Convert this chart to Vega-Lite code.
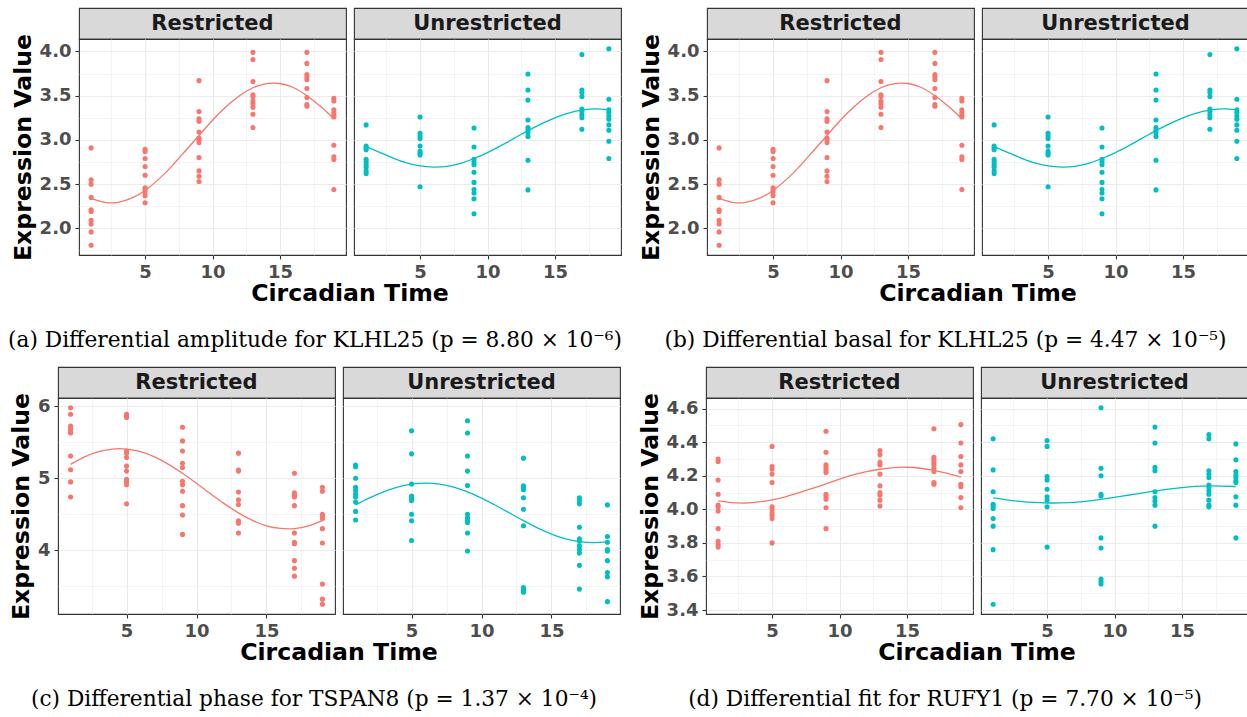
{
"$schema": "https://vega.github.io/schema/vega-lite/v6.json",
"padding": {"left": 7, "top": 7, "right": 0, "bottom": 0},
"background": "white",
"datasets": {
"pab": [
{"g":"Restricted","t":1,"v":2.91},{"g":"Restricted","t":1,"v":2.55},{"g":"Restricted","t":1,"v":2.50},{"g":"Restricted","t":1,"v":2.35},{"g":"Restricted","t":1,"v":2.21},{"g":"Restricted","t":1,"v":2.19},{"g":"Restricted","t":1,"v":2.09},{"g":"Restricted","t":1,"v":2.05},{"g":"Restricted","t":1,"v":1.96},{"g":"Restricted","t":1,"v":1.81},
{"g":"Restricted","t":5,"v":2.895},{"g":"Restricted","t":5,"v":2.87},{"g":"Restricted","t":5,"v":2.79},{"g":"Restricted","t":5,"v":2.70},{"g":"Restricted","t":5,"v":2.60},{"g":"Restricted","t":5,"v":2.46},{"g":"Restricted","t":5,"v":2.44},{"g":"Restricted","t":5,"v":2.41},{"g":"Restricted","t":5,"v":2.37},{"g":"Restricted","t":5,"v":2.29},
{"g":"Restricted","t":9,"v":3.67},{"g":"Restricted","t":9,"v":3.32},{"g":"Restricted","t":9,"v":3.24},{"g":"Restricted","t":9,"v":3.21},{"g":"Restricted","t":9,"v":3.09},{"g":"Restricted","t":9,"v":3.02},{"g":"Restricted","t":9,"v":3.00},{"g":"Restricted","t":9,"v":2.97},{"g":"Restricted","t":9,"v":2.80},{"g":"Restricted","t":9,"v":2.65},{"g":"Restricted","t":9,"v":2.59},{"g":"Restricted","t":9,"v":2.53},
{"g":"Restricted","t":13,"v":3.99},{"g":"Restricted","t":13,"v":3.91},{"g":"Restricted","t":13,"v":3.66},{"g":"Restricted","t":13,"v":3.51},{"g":"Restricted","t":13,"v":3.49},{"g":"Restricted","t":13,"v":3.44},{"g":"Restricted","t":13,"v":3.41},{"g":"Restricted","t":13,"v":3.37},{"g":"Restricted","t":13,"v":3.29},{"g":"Restricted","t":13,"v":3.14},
{"g":"Restricted","t":17,"v":3.99},{"g":"Restricted","t":17,"v":3.865},{"g":"Restricted","t":17,"v":3.74},{"g":"Restricted","t":17,"v":3.71},{"g":"Restricted","t":17,"v":3.68},{"g":"Restricted","t":17,"v":3.58},{"g":"Restricted","t":17,"v":3.48},{"g":"Restricted","t":17,"v":3.40},{"g":"Restricted","t":17,"v":3.38},
{"g":"Restricted","t":19,"v":3.47},{"g":"Restricted","t":19,"v":3.44},{"g":"Restricted","t":19,"v":3.34},{"g":"Restricted","t":19,"v":3.31},{"g":"Restricted","t":19,"v":3.28},{"g":"Restricted","t":19,"v":3.26},{"g":"Restricted","t":19,"v":2.94},{"g":"Restricted","t":19,"v":2.81},{"g":"Restricted","t":19,"v":2.78},{"g":"Restricted","t":19,"v":2.44},
{"g":"Unrestricted","t":1,"v":3.17},{"g":"Unrestricted","t":1,"v":2.93},{"g":"Unrestricted","t":1,"v":2.91},{"g":"Unrestricted","t":1,"v":2.89},{"g":"Unrestricted","t":1,"v":2.78},{"g":"Unrestricted","t":1,"v":2.75},{"g":"Unrestricted","t":1,"v":2.72},{"g":"Unrestricted","t":1,"v":2.69},{"g":"Unrestricted","t":1,"v":2.65},{"g":"Unrestricted","t":1,"v":2.62},
{"g":"Unrestricted","t":5,"v":3.26},{"g":"Unrestricted","t":5,"v":3.075},{"g":"Unrestricted","t":5,"v":3.045},{"g":"Unrestricted","t":5,"v":3.015},{"g":"Unrestricted","t":5,"v":2.93},{"g":"Unrestricted","t":5,"v":2.87},{"g":"Unrestricted","t":5,"v":2.85},{"g":"Unrestricted","t":5,"v":2.83},{"g":"Unrestricted","t":5,"v":2.47},
{"g":"Unrestricted","t":9,"v":3.135},{"g":"Unrestricted","t":9,"v":2.92},{"g":"Unrestricted","t":9,"v":2.78},{"g":"Unrestricted","t":9,"v":2.75},{"g":"Unrestricted","t":9,"v":2.72},{"g":"Unrestricted","t":9,"v":2.635},{"g":"Unrestricted","t":9,"v":2.52},{"g":"Unrestricted","t":9,"v":2.44},{"g":"Unrestricted","t":9,"v":2.40},{"g":"Unrestricted","t":9,"v":2.335},{"g":"Unrestricted","t":9,"v":2.165},
{"g":"Unrestricted","t":13,"v":3.745},{"g":"Unrestricted","t":13,"v":3.565},{"g":"Unrestricted","t":13,"v":3.45},{"g":"Unrestricted","t":13,"v":3.225},{"g":"Unrestricted","t":13,"v":3.14},{"g":"Unrestricted","t":13,"v":3.11},{"g":"Unrestricted","t":13,"v":3.08},{"g":"Unrestricted","t":13,"v":3.04},{"g":"Unrestricted","t":13,"v":2.77},{"g":"Unrestricted","t":13,"v":2.435},
{"g":"Unrestricted","t":17,"v":3.965},{"g":"Unrestricted","t":17,"v":3.565},{"g":"Unrestricted","t":17,"v":3.535},{"g":"Unrestricted","t":17,"v":3.49},{"g":"Unrestricted","t":17,"v":3.35},{"g":"Unrestricted","t":17,"v":3.32},{"g":"Unrestricted","t":17,"v":3.285},{"g":"Unrestricted","t":17,"v":3.25},{"g":"Unrestricted","t":17,"v":3.12},
{"g":"Unrestricted","t":19,"v":4.03},{"g":"Unrestricted","t":19,"v":3.46},{"g":"Unrestricted","t":19,"v":3.34},{"g":"Unrestricted","t":19,"v":3.31},{"g":"Unrestricted","t":19,"v":3.27},{"g":"Unrestricted","t":19,"v":3.235},{"g":"Unrestricted","t":19,"v":3.17},{"g":"Unrestricted","t":19,"v":3.11},{"g":"Unrestricted","t":19,"v":2.985},{"g":"Unrestricted","t":19,"v":2.79}
],
"fab": [
{"g":"Restricted","t":1,"v":2.340},{"g":"Restricted","t":2,"v":2.295},{"g":"Restricted","t":3,"v":2.295},{"g":"Restricted","t":4,"v":2.341},{"g":"Restricted","t":5,"v":2.429},{"g":"Restricted","t":6,"v":2.554},{"g":"Restricted","t":7,"v":2.707},{"g":"Restricted","t":8,"v":2.878},{"g":"Restricted","t":9,"v":3.050},{"g":"Restricted","t":10,"v":3.222},{"g":"Restricted","t":11,"v":3.375},{"g":"Restricted","t":12,"v":3.500},{"g":"Restricted","t":13,"v":3.590},{"g":"Restricted","t":14,"v":3.637},{"g":"Restricted","t":15,"v":3.638},{"g":"Restricted","t":16,"v":3.593},{"g":"Restricted","t":17,"v":3.500},{"g":"Restricted","t":18,"v":3.380},{"g":"Restricted","t":19,"v":3.240},
{"g":"Unrestricted","t":1,"v":2.925},{"g":"Unrestricted","t":2,"v":2.860},{"g":"Unrestricted","t":3,"v":2.795},{"g":"Unrestricted","t":4,"v":2.740},{"g":"Unrestricted","t":5,"v":2.706},{"g":"Unrestricted","t":6,"v":2.692},{"g":"Unrestricted","t":7,"v":2.701},{"g":"Unrestricted","t":8,"v":2.735},{"g":"Unrestricted","t":9,"v":2.790},{"g":"Unrestricted","t":10,"v":2.857},{"g":"Unrestricted","t":11,"v":2.936},{"g":"Unrestricted","t":12,"v":3.020},{"g":"Unrestricted","t":13,"v":3.105},{"g":"Unrestricted","t":14,"v":3.182},{"g":"Unrestricted","t":15,"v":3.250},{"g":"Unrestricted","t":16,"v":3.303},{"g":"Unrestricted","t":17,"v":3.336},{"g":"Unrestricted","t":18,"v":3.350},{"g":"Unrestricted","t":19,"v":3.340}
],
"pc": [
{"g":"Restricted","t":1,"v":5.98},{"g":"Restricted","t":1,"v":5.89},{"g":"Restricted","t":1,"v":5.725},{"g":"Restricted","t":1,"v":5.69},{"g":"Restricted","t":1,"v":5.65},{"g":"Restricted","t":1,"v":5.63},{"g":"Restricted","t":1,"v":5.31},{"g":"Restricted","t":1,"v":5.12},{"g":"Restricted","t":1,"v":4.95},{"g":"Restricted","t":1,"v":4.74},
{"g":"Restricted","t":5,"v":5.89},{"g":"Restricted","t":5,"v":5.865},{"g":"Restricted","t":5,"v":5.845},{"g":"Restricted","t":5,"v":5.38},{"g":"Restricted","t":5,"v":5.345},{"g":"Restricted","t":5,"v":5.29},{"g":"Restricted","t":5,"v":5.17},{"g":"Restricted","t":5,"v":5.10},{"g":"Restricted","t":5,"v":4.985},{"g":"Restricted","t":5,"v":4.95},{"g":"Restricted","t":5,"v":4.91},{"g":"Restricted","t":5,"v":4.645},
{"g":"Restricted","t":9,"v":5.71},{"g":"Restricted","t":9,"v":5.52},{"g":"Restricted","t":9,"v":5.38},{"g":"Restricted","t":9,"v":5.21},{"g":"Restricted","t":9,"v":5.15},{"g":"Restricted","t":9,"v":4.96},{"g":"Restricted","t":9,"v":4.91},{"g":"Restricted","t":9,"v":4.82},{"g":"Restricted","t":9,"v":4.62},{"g":"Restricted","t":9,"v":4.49},{"g":"Restricted","t":9,"v":4.22},
{"g":"Restricted","t":13,"v":5.35},{"g":"Restricted","t":13,"v":5.115},{"g":"Restricted","t":13,"v":5.10},{"g":"Restricted","t":13,"v":4.81},{"g":"Restricted","t":13,"v":4.70},{"g":"Restricted","t":13,"v":4.635},{"g":"Restricted","t":13,"v":4.41},{"g":"Restricted","t":13,"v":4.375},{"g":"Restricted","t":13,"v":4.24},
{"g":"Restricted","t":17,"v":5.07},{"g":"Restricted","t":17,"v":4.80},{"g":"Restricted","t":17,"v":4.765},{"g":"Restricted","t":17,"v":4.74},{"g":"Restricted","t":17,"v":4.62},{"g":"Restricted","t":17,"v":4.24},{"g":"Restricted","t":17,"v":4.11},{"g":"Restricted","t":17,"v":4.09},{"g":"Restricted","t":17,"v":3.855},{"g":"Restricted","t":17,"v":3.75},{"g":"Restricted","t":17,"v":3.64},
{"g":"Restricted","t":19,"v":4.875},{"g":"Restricted","t":19,"v":4.82},{"g":"Restricted","t":19,"v":4.50},{"g":"Restricted","t":19,"v":4.47},{"g":"Restricted","t":19,"v":4.44},{"g":"Restricted","t":19,"v":4.30},{"g":"Restricted","t":19,"v":4.10},{"g":"Restricted","t":19,"v":3.53},{"g":"Restricted","t":19,"v":3.32},{"g":"Restricted","t":19,"v":3.25},
{"g":"Unrestricted","t":1,"v":5.185},{"g":"Unrestricted","t":1,"v":5.16},{"g":"Unrestricted","t":1,"v":5.0},{"g":"Unrestricted","t":1,"v":4.875},{"g":"Unrestricted","t":1,"v":4.83},{"g":"Unrestricted","t":1,"v":4.78},{"g":"Unrestricted","t":1,"v":4.74},{"g":"Unrestricted","t":1,"v":4.67},{"g":"Unrestricted","t":1,"v":4.54},{"g":"Unrestricted","t":1,"v":4.42},
{"g":"Unrestricted","t":5,"v":5.66},{"g":"Unrestricted","t":5,"v":5.34},{"g":"Unrestricted","t":5,"v":4.92},{"g":"Unrestricted","t":5,"v":4.755},{"g":"Unrestricted","t":5,"v":4.73},{"g":"Unrestricted","t":5,"v":4.69},{"g":"Unrestricted","t":5,"v":4.50},{"g":"Unrestricted","t":5,"v":4.41},{"g":"Unrestricted","t":5,"v":4.135},
{"g":"Unrestricted","t":9,"v":5.80},{"g":"Unrestricted","t":9,"v":5.63},{"g":"Unrestricted","t":9,"v":5.31},{"g":"Unrestricted","t":9,"v":5.10},{"g":"Unrestricted","t":9,"v":4.90},{"g":"Unrestricted","t":9,"v":4.50},{"g":"Unrestricted","t":9,"v":4.45},{"g":"Unrestricted","t":9,"v":4.41},{"g":"Unrestricted","t":9,"v":4.385},{"g":"Unrestricted","t":9,"v":4.24},{"g":"Unrestricted","t":9,"v":3.99},
{"g":"Unrestricted","t":13,"v":5.28},{"g":"Unrestricted","t":13,"v":4.895},{"g":"Unrestricted","t":13,"v":4.865},{"g":"Unrestricted","t":13,"v":4.84},{"g":"Unrestricted","t":13,"v":4.73},{"g":"Unrestricted","t":13,"v":4.57},{"g":"Unrestricted","t":13,"v":4.34},{"g":"Unrestricted","t":13,"v":3.48},{"g":"Unrestricted","t":13,"v":3.445},{"g":"Unrestricted","t":13,"v":3.415},
{"g":"Unrestricted","t":17,"v":4.73},{"g":"Unrestricted","t":17,"v":4.69},{"g":"Unrestricted","t":17,"v":4.645},{"g":"Unrestricted","t":17,"v":4.32},{"g":"Unrestricted","t":17,"v":4.16},{"g":"Unrestricted","t":17,"v":4.125},{"g":"Unrestricted","t":17,"v":4.06},{"g":"Unrestricted","t":17,"v":4.01},{"g":"Unrestricted","t":17,"v":3.96},{"g":"Unrestricted","t":17,"v":3.79},{"g":"Unrestricted","t":17,"v":3.46},
{"g":"Unrestricted","t":19,"v":4.63},{"g":"Unrestricted","t":19,"v":4.19},{"g":"Unrestricted","t":19,"v":4.11},{"g":"Unrestricted","t":19,"v":4.01},{"g":"Unrestricted","t":19,"v":3.99},{"g":"Unrestricted","t":19,"v":3.855},{"g":"Unrestricted","t":19,"v":3.69},{"g":"Unrestricted","t":19,"v":3.63},{"g":"Unrestricted","t":19,"v":3.285}
],
"fc": [
{"g":"Restricted","t":1,"v":5.194},{"g":"Restricted","t":2,"v":5.297},{"g":"Restricted","t":3,"v":5.370},{"g":"Restricted","t":4,"v":5.407},{"g":"Restricted","t":5,"v":5.407},{"g":"Restricted","t":6,"v":5.370},{"g":"Restricted","t":7,"v":5.297},{"g":"Restricted","t":8,"v":5.194},{"g":"Restricted","t":9,"v":5.070},{"g":"Restricted","t":10,"v":4.930},{"g":"Restricted","t":11,"v":4.785},{"g":"Restricted","t":12,"v":4.645},{"g":"Restricted","t":13,"v":4.520},{"g":"Restricted","t":14,"v":4.415},{"g":"Restricted","t":15,"v":4.340},{"g":"Restricted","t":16,"v":4.303},{"g":"Restricted","t":17,"v":4.300},{"g":"Restricted","t":18,"v":4.338},{"g":"Restricted","t":19,"v":4.413},
{"g":"Unrestricted","t":1,"v":4.630},{"g":"Unrestricted","t":2,"v":4.728},{"g":"Unrestricted","t":3,"v":4.811},{"g":"Unrestricted","t":4,"v":4.877},{"g":"Unrestricted","t":5,"v":4.918},{"g":"Unrestricted","t":6,"v":4.932},{"g":"Unrestricted","t":7,"v":4.918},{"g":"Unrestricted","t":8,"v":4.877},{"g":"Unrestricted","t":9,"v":4.811},{"g":"Unrestricted","t":10,"v":4.725},{"g":"Unrestricted","t":11,"v":4.625},{"g":"Unrestricted","t":12,"v":4.518},{"g":"Unrestricted","t":13,"v":4.411},{"g":"Unrestricted","t":14,"v":4.311},{"g":"Unrestricted","t":15,"v":4.225},{"g":"Unrestricted","t":16,"v":4.159},{"g":"Unrestricted","t":17,"v":4.120},{"g":"Unrestricted","t":18,"v":4.106},{"g":"Unrestricted","t":19,"v":4.115}
],
"pd": [
{"g":"Restricted","t":1,"v":4.30},{"g":"Restricted","t":1,"v":4.285},{"g":"Restricted","t":1,"v":4.175},{"g":"Restricted","t":1,"v":4.09},{"g":"Restricted","t":1,"v":4.025},{"g":"Restricted","t":1,"v":4.015},{"g":"Restricted","t":1,"v":3.99},{"g":"Restricted","t":1,"v":3.885},{"g":"Restricted","t":1,"v":3.81},{"g":"Restricted","t":1,"v":3.79},{"g":"Restricted","t":1,"v":3.775},
{"g":"Restricted","t":5,"v":4.375},{"g":"Restricted","t":5,"v":4.255},{"g":"Restricted","t":5,"v":4.24},{"g":"Restricted","t":5,"v":4.21},{"g":"Restricted","t":5,"v":4.16},{"g":"Restricted","t":5,"v":4.015},{"g":"Restricted","t":5,"v":4.00},{"g":"Restricted","t":5,"v":3.98},{"g":"Restricted","t":5,"v":3.965},{"g":"Restricted","t":5,"v":3.945},{"g":"Restricted","t":5,"v":3.80},
{"g":"Restricted","t":9,"v":4.465},{"g":"Restricted","t":9,"v":4.34},{"g":"Restricted","t":9,"v":4.265},{"g":"Restricted","t":9,"v":4.25},{"g":"Restricted","t":9,"v":4.235},{"g":"Restricted","t":9,"v":4.22},{"g":"Restricted","t":9,"v":4.09},{"g":"Restricted","t":9,"v":4.075},{"g":"Restricted","t":9,"v":4.06},{"g":"Restricted","t":9,"v":4.01},{"g":"Restricted","t":9,"v":3.885},
{"g":"Restricted","t":13,"v":4.35},{"g":"Restricted","t":13,"v":4.325},{"g":"Restricted","t":13,"v":4.28},{"g":"Restricted","t":13,"v":4.265},{"g":"Restricted","t":13,"v":4.21},{"g":"Restricted","t":13,"v":4.14},{"g":"Restricted","t":13,"v":4.10},{"g":"Restricted","t":13,"v":4.085},{"g":"Restricted","t":13,"v":4.055},{"g":"Restricted","t":13,"v":4.02},
{"g":"Restricted","t":17,"v":4.48},{"g":"Restricted","t":17,"v":4.31},{"g":"Restricted","t":17,"v":4.295},{"g":"Restricted","t":17,"v":4.28},{"g":"Restricted","t":17,"v":4.265},{"g":"Restricted","t":17,"v":4.245},{"g":"Restricted","t":17,"v":4.225},{"g":"Restricted","t":17,"v":4.16},{"g":"Restricted","t":17,"v":4.15},
{"g":"Restricted","t":19,"v":4.505},{"g":"Restricted","t":19,"v":4.395},{"g":"Restricted","t":19,"v":4.315},{"g":"Restricted","t":19,"v":4.265},{"g":"Restricted","t":19,"v":4.225},{"g":"Restricted","t":19,"v":4.15},{"g":"Restricted","t":19,"v":4.135},{"g":"Restricted","t":19,"v":4.07},{"g":"Restricted","t":19,"v":4.01},
{"g":"Unrestricted","t":1,"v":4.42},{"g":"Unrestricted","t":1,"v":4.235},{"g":"Unrestricted","t":1,"v":4.105},{"g":"Unrestricted","t":1,"v":4.03},{"g":"Unrestricted","t":1,"v":4.02},{"g":"Unrestricted","t":1,"v":4.005},{"g":"Unrestricted","t":1,"v":3.945},{"g":"Unrestricted","t":1,"v":3.90},{"g":"Unrestricted","t":1,"v":3.76},{"g":"Unrestricted","t":1,"v":3.435},
{"g":"Unrestricted","t":5,"v":4.41},{"g":"Unrestricted","t":5,"v":4.375},{"g":"Unrestricted","t":5,"v":4.195},{"g":"Unrestricted","t":5,"v":4.175},{"g":"Unrestricted","t":5,"v":4.12},{"g":"Unrestricted","t":5,"v":4.075},{"g":"Unrestricted","t":5,"v":4.055},{"g":"Unrestricted","t":5,"v":4.015},{"g":"Unrestricted","t":5,"v":3.775},
{"g":"Unrestricted","t":9,"v":4.605},{"g":"Unrestricted","t":9,"v":4.245},{"g":"Unrestricted","t":9,"v":4.20},{"g":"Unrestricted","t":9,"v":4.09},{"g":"Unrestricted","t":9,"v":4.08},{"g":"Unrestricted","t":9,"v":3.83},{"g":"Unrestricted","t":9,"v":3.77},{"g":"Unrestricted","t":9,"v":3.585},{"g":"Unrestricted","t":9,"v":3.57},{"g":"Unrestricted","t":9,"v":3.555},
{"g":"Unrestricted","t":13,"v":4.49},{"g":"Unrestricted","t":13,"v":4.395},{"g":"Unrestricted","t":13,"v":4.25},{"g":"Unrestricted","t":13,"v":4.23},{"g":"Unrestricted","t":13,"v":4.105},{"g":"Unrestricted","t":13,"v":4.07},{"g":"Unrestricted","t":13,"v":4.05},{"g":"Unrestricted","t":13,"v":4.025},{"g":"Unrestricted","t":13,"v":3.90},
{"g":"Unrestricted","t":17,"v":4.445},{"g":"Unrestricted","t":17,"v":4.42},{"g":"Unrestricted","t":17,"v":4.23},{"g":"Unrestricted","t":17,"v":4.21},{"g":"Unrestricted","t":17,"v":4.19},{"g":"Unrestricted","t":17,"v":4.145},{"g":"Unrestricted","t":17,"v":4.13},{"g":"Unrestricted","t":17,"v":4.11},{"g":"Unrestricted","t":17,"v":4.09},{"g":"Unrestricted","t":17,"v":4.055},{"g":"Unrestricted","t":17,"v":4.025},{"g":"Unrestricted","t":17,"v":4.015},
{"g":"Unrestricted","t":19,"v":4.39},{"g":"Unrestricted","t":19,"v":4.295},{"g":"Unrestricted","t":19,"v":4.225},{"g":"Unrestricted","t":19,"v":4.205},{"g":"Unrestricted","t":19,"v":4.19},{"g":"Unrestricted","t":19,"v":4.17},{"g":"Unrestricted","t":19,"v":4.16},{"g":"Unrestricted","t":19,"v":4.075},{"g":"Unrestricted","t":19,"v":4.025},{"g":"Unrestricted","t":19,"v":3.83}
],
"fd": [
{"g":"Restricted","t":1,"v":4.050},{"g":"Restricted","t":2,"v":4.040},{"g":"Restricted","t":3,"v":4.038},{"g":"Restricted","t":4,"v":4.044},{"g":"Restricted","t":5,"v":4.057},{"g":"Restricted","t":6,"v":4.075},{"g":"Restricted","t":7,"v":4.099},{"g":"Restricted","t":8,"v":4.125},{"g":"Restricted","t":9,"v":4.152},{"g":"Restricted","t":10,"v":4.180},{"g":"Restricted","t":11,"v":4.205},{"g":"Restricted","t":12,"v":4.225},{"g":"Restricted","t":13,"v":4.239},{"g":"Restricted","t":14,"v":4.249},{"g":"Restricted","t":15,"v":4.251},{"g":"Restricted","t":16,"v":4.245},{"g":"Restricted","t":17,"v":4.232},{"g":"Restricted","t":18,"v":4.214},{"g":"Restricted","t":19,"v":4.192},
{"g":"Unrestricted","t":1,"v":4.068},{"g":"Unrestricted","t":2,"v":4.057},{"g":"Unrestricted","t":3,"v":4.048},{"g":"Unrestricted","t":4,"v":4.041},{"g":"Unrestricted","t":5,"v":4.038},{"g":"Unrestricted","t":6,"v":4.039},{"g":"Unrestricted","t":7,"v":4.042},{"g":"Unrestricted","t":8,"v":4.049},{"g":"Unrestricted","t":9,"v":4.059},{"g":"Unrestricted","t":10,"v":4.071},{"g":"Unrestricted","t":11,"v":4.084},{"g":"Unrestricted","t":12,"v":4.097},{"g":"Unrestricted","t":13,"v":4.110},{"g":"Unrestricted","t":14,"v":4.121},{"g":"Unrestricted","t":15,"v":4.130},{"g":"Unrestricted","t":16,"v":4.137},{"g":"Unrestricted","t":17,"v":4.140},{"g":"Unrestricted","t":18,"v":4.139},{"g":"Unrestricted","t":19,"v":4.136}
]
},
"spacing": 14,
"resolve": {"scale": {"x": "independent", "y": "independent"}},
"vconcat": [
{"spacing": 16, "resolve": {"scale": {"x": "independent", "y": "independent"}}, "hconcat": [
 {"spacing": 0, "resolve": {"scale": {"x": "independent", "y": "independent"}}, "hconcat": [
  {"width": 1, "height": 1, "view": {"stroke": null}, "data": {"values": [{"a": 0}]}, "mark": {"type": "point", "opacity": 0, "size": 0, "strokeWidth": 0}, "encoding": {}},
  {"spacing": 0, "resolve": {"scale": {"x": "independent", "y": "independent"}}, "vconcat": [
   {"spacing": 6, "resolve": {"scale": {"x": "independent", "y": "independent"}}, "hconcat": [
    {"spacing": 0, "bounds": "flush", "resolve": {"scale": {"x": "independent", "y": "independent"}}, "vconcat": [
     {"width": 267, "height": 31, "view": {"fill": "#d9d9d9", "stroke": "#333333", "strokeWidth": 1.1}, "data": {"values": [{"g": "Restricted"}]}, "mark": {"type": "text", "font": "DejaVu Sans", "fontWeight": "bold", "fontSize": 21, "color": "#1a1a1a"}, "encoding": {"text": {"field": "g", "type": "nominal"}}},
     {"width": 267, "height": 216, "view": {"fill": "white", "stroke": "#333333", "strokeWidth": 1.1}, "layer": [
      {"data": {"name": "pab"}, "transform": [{"filter": "datum.g == 'Restricted'"}], "mark": {"type": "circle", "size": 26, "opacity": 1},
       "encoding": {"x": {"field": "t", "type": "quantitative", "scale": {"domain": [0.1, 19.9], "nice": false, "zero": false}, "axis": {"orient": "bottom", "values": [5, 10, 15], "title": null}},
        "y": {"field": "v", "type": "quantitative", "scale": {"domain": [1.699, 4.141], "nice": false, "zero": false}, "axis": {"orient": "left", "values": [2, 2.5, 3, 3.5, 4], "format": ".1f", "title": "Expression Value", "minExtent": 0}},
        "color": {"field": "g", "type": "nominal", "scale": {"domain": ["Restricted", "Unrestricted"], "range": ["#F8766D", "#00BFC4"]}, "legend": null}}},
      {"data": {"name": "fab"}, "transform": [{"filter": "datum.g == 'Restricted'"}], "mark": {"type": "line", "strokeWidth": 1.3, "interpolate": "natural"},
       "encoding": {"x": {"field": "t", "type": "quantitative", "axis": {"orient": "top", "values": [2.5, 7.5, 12.5, 17.5], "labels": false, "ticks": false, "domain": false, "title": null, "grid": true, "gridWidth": 0.55, "minExtent": 0}},
        "y": {"field": "v", "type": "quantitative", "axis": {"orient": "right", "values": [1.75, 2.25, 2.75, 3.25, 3.75], "labels": false, "ticks": false, "domain": false, "title": null, "grid": true, "gridWidth": 0.55, "minExtent": 0}},
        "color": {"field": "g", "type": "nominal", "legend": null}}}
     ]}
    ]},
    {"spacing": 0, "bounds": "flush", "resolve": {"scale": {"x": "independent", "y": "independent"}}, "vconcat": [
     {"width": 267, "height": 31, "view": {"fill": "#d9d9d9", "stroke": "#333333", "strokeWidth": 1.1}, "data": {"values": [{"g": "Unrestricted"}]}, "mark": {"type": "text", "font": "DejaVu Sans", "fontWeight": "bold", "fontSize": 21, "color": "#1a1a1a"}, "encoding": {"text": {"field": "g", "type": "nominal"}}},
     {"width": 267, "height": 216, "view": {"fill": "white", "stroke": "#333333", "strokeWidth": 1.1}, "layer": [
      {"data": {"name": "pab"}, "transform": [{"filter": "datum.g == 'Unrestricted'"}], "mark": {"type": "circle", "size": 26, "opacity": 1},
       "encoding": {"x": {"field": "t", "type": "quantitative", "scale": {"domain": [0.1, 19.9], "nice": false, "zero": false}, "axis": {"orient": "bottom", "values": [5, 10, 15], "title": null}},
        "y": {"field": "v", "type": "quantitative", "scale": {"domain": [1.699, 4.141], "nice": false, "zero": false}, "axis": {"orient": "left", "values": [2, 2.5, 3, 3.5, 4], "labels": false, "ticks": false, "title": null, "minExtent": 0}},
        "color": {"field": "g", "type": "nominal", "scale": {"domain": ["Restricted", "Unrestricted"], "range": ["#F8766D", "#00BFC4"]}, "legend": null}}},
      {"data": {"name": "fab"}, "transform": [{"filter": "datum.g == 'Unrestricted'"}], "mark": {"type": "line", "strokeWidth": 1.3, "interpolate": "natural"},
       "encoding": {"x": {"field": "t", "type": "quantitative", "axis": {"orient": "top", "values": [2.5, 7.5, 12.5, 17.5], "labels": false, "ticks": false, "domain": false, "title": null, "grid": true, "gridWidth": 0.55, "minExtent": 0}},
        "y": {"field": "v", "type": "quantitative", "axis": {"orient": "right", "values": [1.75, 2.25, 2.75, 3.25, 3.75], "labels": false, "ticks": false, "domain": false, "title": null, "grid": true, "gridWidth": 0.55, "minExtent": 0}},
        "color": {"field": "g", "type": "nominal", "legend": null}}}
     ]}
    ]}
   ]},
   {"width": 542, "height": 64, "view": {"stroke": null}, "layer": [
    {"data": {"values": [{"k": "xt", "s": "Circadian Time"}]}, "mark": {"type": "text", "font": "DejaVu Sans", "fontWeight": "bold", "fontSize": 23.6, "color": "#000000"},
     "encoding": {"text": {"field": "s", "type": "nominal"}, "y": {"field": "k", "type": "nominal", "scale": {"type": "point", "domain": ["xt", "cap"], "padding": 0.2}, "axis": null}}},
    {"data": {"values": [{"k": "cap", "s": "(a) Differential amplitude for KLHL25 (p = 8.80 × 10⁻⁶)"}]}, "mark": {"type": "text", "font": "DejaVu Serif", "fontSize": 21.7, "color": "#000000", "dx": -35},
     "encoding": {"text": {"field": "s", "type": "nominal"}, "y": {"field": "k", "type": "nominal", "axis": null}}}
   ]}
  ]}
 ]},
 {"spacing": 0, "resolve": {"scale": {"x": "independent", "y": "independent"}}, "vconcat": [
  {"spacing": 6, "resolve": {"scale": {"x": "independent", "y": "independent"}}, "hconcat": [
   {"spacing": 0, "bounds": "flush", "resolve": {"scale": {"x": "independent", "y": "independent"}}, "vconcat": [
    {"width": 267, "height": 31, "view": {"fill": "#d9d9d9", "stroke": "#333333", "strokeWidth": 1.1}, "data": {"values": [{"g": "Restricted"}]}, "mark": {"type": "text", "font": "DejaVu Sans", "fontWeight": "bold", "fontSize": 21, "color": "#1a1a1a"}, "encoding": {"text": {"field": "g", "type": "nominal"}}},
    {"width": 267, "height": 216, "view": {"fill": "white", "stroke": "#333333", "strokeWidth": 1.1}, "layer": [
     {"data": {"name": "pab"}, "transform": [{"filter": "datum.g == 'Restricted'"}], "mark": {"type": "circle", "size": 26, "opacity": 1},
      "encoding": {"x": {"field": "t", "type": "quantitative", "scale": {"domain": [0.1, 19.9], "nice": false, "zero": false}, "axis": {"orient": "bottom", "values": [5, 10, 15], "title": null}},
       "y": {"field": "v", "type": "quantitative", "scale": {"domain": [1.699, 4.141], "nice": false, "zero": false}, "axis": {"orient": "left", "values": [2, 2.5, 3, 3.5, 4], "format": ".1f", "title": "Expression Value", "minExtent": 0}},
       "color": {"field": "g", "type": "nominal", "scale": {"domain": ["Restricted", "Unrestricted"], "range": ["#F8766D", "#00BFC4"]}, "legend": null}}},
     {"data": {"name": "fab"}, "transform": [{"filter": "datum.g == 'Restricted'"}], "mark": {"type": "line", "strokeWidth": 1.3, "interpolate": "natural"},
      "encoding": {"x": {"field": "t", "type": "quantitative", "axis": {"orient": "top", "values": [2.5, 7.5, 12.5, 17.5], "labels": false, "ticks": false, "domain": false, "title": null, "grid": true, "gridWidth": 0.55, "minExtent": 0}},
       "y": {"field": "v", "type": "quantitative", "axis": {"orient": "right", "values": [1.75, 2.25, 2.75, 3.25, 3.75], "labels": false, "ticks": false, "domain": false, "title": null, "grid": true, "gridWidth": 0.55, "minExtent": 0}},
       "color": {"field": "g", "type": "nominal", "legend": null}}}
    ]}
   ]},
   {"spacing": 0, "bounds": "flush", "resolve": {"scale": {"x": "independent", "y": "independent"}}, "vconcat": [
    {"width": 267, "height": 31, "view": {"fill": "#d9d9d9", "stroke": "#333333", "strokeWidth": 1.1}, "data": {"values": [{"g": "Unrestricted"}]}, "mark": {"type": "text", "font": "DejaVu Sans", "fontWeight": "bold", "fontSize": 21, "color": "#1a1a1a"}, "encoding": {"text": {"field": "g", "type": "nominal"}}},
    {"width": 267, "height": 216, "view": {"fill": "white", "stroke": "#333333", "strokeWidth": 1.1}, "layer": [
     {"data": {"name": "pab"}, "transform": [{"filter": "datum.g == 'Unrestricted'"}], "mark": {"type": "circle", "size": 26, "opacity": 1},
      "encoding": {"x": {"field": "t", "type": "quantitative", "scale": {"domain": [0.1, 19.9], "nice": false, "zero": false}, "axis": {"orient": "bottom", "values": [5, 10, 15], "title": null}},
       "y": {"field": "v", "type": "quantitative", "scale": {"domain": [1.699, 4.141], "nice": false, "zero": false}, "axis": {"orient": "left", "values": [2, 2.5, 3, 3.5, 4], "labels": false, "ticks": false, "title": null, "minExtent": 0}},
       "color": {"field": "g", "type": "nominal", "scale": {"domain": ["Restricted", "Unrestricted"], "range": ["#F8766D", "#00BFC4"]}, "legend": null}}},
     {"data": {"name": "fab"}, "transform": [{"filter": "datum.g == 'Unrestricted'"}], "mark": {"type": "line", "strokeWidth": 1.3, "interpolate": "natural"},
      "encoding": {"x": {"field": "t", "type": "quantitative", "axis": {"orient": "top", "values": [2.5, 7.5, 12.5, 17.5], "labels": false, "ticks": false, "domain": false, "title": null, "grid": true, "gridWidth": 0.55, "minExtent": 0}},
       "y": {"field": "v", "type": "quantitative", "axis": {"orient": "right", "values": [1.75, 2.25, 2.75, 3.25, 3.75], "labels": false, "ticks": false, "domain": false, "title": null, "grid": true, "gridWidth": 0.55, "minExtent": 0}},
       "color": {"field": "g", "type": "nominal", "legend": null}}}
    ]}
   ]}
  ]},
  {"width": 542, "height": 64, "view": {"stroke": null}, "layer": [
   {"data": {"values": [{"k": "xt", "s": "Circadian Time"}]}, "mark": {"type": "text", "font": "DejaVu Sans", "fontWeight": "bold", "fontSize": 23.6, "color": "#000000"},
    "encoding": {"text": {"field": "s", "type": "nominal"}, "y": {"field": "k", "type": "nominal", "scale": {"type": "point", "domain": ["xt", "cap"], "padding": 0.2}, "axis": null}}},
   {"data": {"values": [{"k": "cap", "s": "(b) Differential basal for KLHL25 (p = 4.47 × 10⁻⁵)"}]}, "mark": {"type": "text", "font": "DejaVu Serif", "fontSize": 21.7, "color": "#000000", "dx": -32.5},
    "encoding": {"text": {"field": "s", "type": "nominal"}, "y": {"field": "k", "type": "nominal", "axis": null}}}
  ]}
 ]}
]},
{"spacing": 16, "resolve": {"scale": {"x": "independent", "y": "independent"}}, "hconcat": [
 {"spacing": 0, "resolve": {"scale": {"x": "independent", "y": "independent"}}, "hconcat": [
  {"width": 1, "height": 1, "view": {"stroke": null}, "data": {"values": [{"a": 0}]}, "mark": {"type": "point", "opacity": 0, "size": 0, "strokeWidth": 0}, "encoding": {}},
  {"spacing": 0, "resolve": {"scale": {"x": "independent", "y": "independent"}}, "vconcat": [
   {"spacing": 6, "resolve": {"scale": {"x": "independent", "y": "independent"}}, "hconcat": [
    {"spacing": 0, "bounds": "flush", "resolve": {"scale": {"x": "independent", "y": "independent"}}, "vconcat": [
     {"width": 277, "height": 31, "view": {"fill": "#d9d9d9", "stroke": "#333333", "strokeWidth": 1.1}, "data": {"values": [{"g": "Restricted"}]}, "mark": {"type": "text", "font": "DejaVu Sans", "fontWeight": "bold", "fontSize": 21, "color": "#1a1a1a"}, "encoding": {"text": {"field": "g", "type": "nominal"}}},
     {"width": 277, "height": 216, "view": {"fill": "white", "stroke": "#333333", "strokeWidth": 1.1}, "layer": [
      {"data": {"name": "pc"}, "transform": [{"filter": "datum.g == 'Restricted'"}], "mark": {"type": "circle", "size": 26, "opacity": 1},
       "encoding": {"x": {"field": "t", "type": "quantitative", "scale": {"domain": [0.1, 19.9], "nice": false, "zero": false}, "axis": {"orient": "bottom", "values": [5, 10, 15], "title": null}},
        "y": {"field": "v", "type": "quantitative", "scale": {"domain": [3.1135, 6.1165], "nice": false, "zero": false}, "axis": {"orient": "left", "values": [4, 5, 6], "format": "d", "title": "Expression Value", "minExtent": 0}},
        "color": {"field": "g", "type": "nominal", "scale": {"domain": ["Restricted", "Unrestricted"], "range": ["#F8766D", "#00BFC4"]}, "legend": null}}},
      {"data": {"name": "fc"}, "transform": [{"filter": "datum.g == 'Restricted'"}], "mark": {"type": "line", "strokeWidth": 1.3, "interpolate": "natural"},
       "encoding": {"x": {"field": "t", "type": "quantitative", "axis": {"orient": "top", "values": [2.5, 7.5, 12.5, 17.5], "labels": false, "ticks": false, "domain": false, "title": null, "grid": true, "gridWidth": 0.55, "minExtent": 0}},
        "y": {"field": "v", "type": "quantitative", "axis": {"orient": "right", "values": [3.5, 4.5, 5.5], "labels": false, "ticks": false, "domain": false, "title": null, "grid": true, "gridWidth": 0.55, "minExtent": 0}},
        "color": {"field": "g", "type": "nominal", "legend": null}}}
     ]}
    ]},
    {"spacing": 0, "bounds": "flush", "resolve": {"scale": {"x": "independent", "y": "independent"}}, "vconcat": [
     {"width": 277, "height": 31, "view": {"fill": "#d9d9d9", "stroke": "#333333", "strokeWidth": 1.1}, "data": {"values": [{"g": "Unrestricted"}]}, "mark": {"type": "text", "font": "DejaVu Sans", "fontWeight": "bold", "fontSize": 21, "color": "#1a1a1a"}, "encoding": {"text": {"field": "g", "type": "nominal"}}},
     {"width": 277, "height": 216, "view": {"fill": "white", "stroke": "#333333", "strokeWidth": 1.1}, "layer": [
      {"data": {"name": "pc"}, "transform": [{"filter": "datum.g == 'Unrestricted'"}], "mark": {"type": "circle", "size": 26, "opacity": 1},
       "encoding": {"x": {"field": "t", "type": "quantitative", "scale": {"domain": [0.1, 19.9], "nice": false, "zero": false}, "axis": {"orient": "bottom", "values": [5, 10, 15], "title": null}},
        "y": {"field": "v", "type": "quantitative", "scale": {"domain": [3.1135, 6.1165], "nice": false, "zero": false}, "axis": {"orient": "left", "values": [4, 5, 6], "labels": false, "ticks": false, "title": null, "minExtent": 0}},
        "color": {"field": "g", "type": "nominal", "scale": {"domain": ["Restricted", "Unrestricted"], "range": ["#F8766D", "#00BFC4"]}, "legend": null}}},
      {"data": {"name": "fc"}, "transform": [{"filter": "datum.g == 'Unrestricted'"}], "mark": {"type": "line", "strokeWidth": 1.3, "interpolate": "natural"},
       "encoding": {"x": {"field": "t", "type": "quantitative", "axis": {"orient": "top", "values": [2.5, 7.5, 12.5, 17.5], "labels": false, "ticks": false, "domain": false, "title": null, "grid": true, "gridWidth": 0.55, "minExtent": 0}},
        "y": {"field": "v", "type": "quantitative", "axis": {"orient": "right", "values": [3.5, 4.5, 5.5], "labels": false, "ticks": false, "domain": false, "title": null, "grid": true, "gridWidth": 0.55, "minExtent": 0}},
        "color": {"field": "g", "type": "nominal", "legend": null}}}
     ]}
    ]}
   ]},
   {"width": 562, "height": 64, "view": {"stroke": null}, "layer": [
    {"data": {"values": [{"k": "xt", "s": "Circadian Time"}]}, "mark": {"type": "text", "font": "DejaVu Sans", "fontWeight": "bold", "fontSize": 23.6, "color": "#000000"},
     "encoding": {"text": {"field": "s", "type": "nominal"}, "y": {"field": "k", "type": "nominal", "scale": {"type": "point", "domain": ["xt", "cap"], "padding": 0.2}, "axis": null}}},
    {"data": {"values": [{"k": "cap", "s": "(c) Differential phase for TSPAN8 (p = 1.37 × 10⁻⁴)"}]}, "mark": {"type": "text", "font": "DejaVu Serif", "fontSize": 21.7, "color": "#000000", "dx": -25},
     "encoding": {"text": {"field": "s", "type": "nominal"}, "y": {"field": "k", "type": "nominal", "axis": null}}}
   ]}
  ]}
 ]},
 {"spacing": 0, "resolve": {"scale": {"x": "independent", "y": "independent"}}, "vconcat": [
  {"spacing": 6, "resolve": {"scale": {"x": "independent", "y": "independent"}}, "hconcat": [
   {"spacing": 0, "bounds": "flush", "resolve": {"scale": {"x": "independent", "y": "independent"}}, "vconcat": [
    {"width": 267, "height": 31, "view": {"fill": "#d9d9d9", "stroke": "#333333", "strokeWidth": 1.1}, "data": {"values": [{"g": "Restricted"}]}, "mark": {"type": "text", "font": "DejaVu Sans", "fontWeight": "bold", "fontSize": 21, "color": "#1a1a1a"}, "encoding": {"text": {"field": "g", "type": "nominal"}}},
    {"width": 267, "height": 216, "view": {"fill": "white", "stroke": "#333333", "strokeWidth": 1.1}, "layer": [
     {"data": {"name": "pd"}, "transform": [{"filter": "datum.g == 'Restricted'"}], "mark": {"type": "circle", "size": 26, "opacity": 1},
      "encoding": {"x": {"field": "t", "type": "quantitative", "scale": {"domain": [0.1, 19.9], "nice": false, "zero": false}, "axis": {"orient": "bottom", "values": [5, 10, 15], "title": null}},
       "y": {"field": "v", "type": "quantitative", "scale": {"domain": [3.3765, 4.6635], "nice": false, "zero": false}, "axis": {"orient": "left", "values": [3.4, 3.6, 3.8, 4.0, 4.2, 4.4, 4.6], "format": ".1f", "title": "Expression Value", "minExtent": 0}},
       "color": {"field": "g", "type": "nominal", "scale": {"domain": ["Restricted", "Unrestricted"], "range": ["#F8766D", "#00BFC4"]}, "legend": null}}},
     {"data": {"name": "fd"}, "transform": [{"filter": "datum.g == 'Restricted'"}], "mark": {"type": "line", "strokeWidth": 1.3, "interpolate": "natural"},
      "encoding": {"x": {"field": "t", "type": "quantitative", "axis": {"orient": "top", "values": [2.5, 7.5, 12.5, 17.5], "labels": false, "ticks": false, "domain": false, "title": null, "grid": true, "gridWidth": 0.55, "minExtent": 0}},
       "y": {"field": "v", "type": "quantitative", "axis": {"orient": "right", "values": [3.5, 3.7, 3.9, 4.1, 4.3, 4.5], "labels": false, "ticks": false, "domain": false, "title": null, "grid": true, "gridWidth": 0.55, "minExtent": 0}},
       "color": {"field": "g", "type": "nominal", "legend": null}}}
    ]}
   ]},
   {"spacing": 0, "bounds": "flush", "resolve": {"scale": {"x": "independent", "y": "independent"}}, "vconcat": [
    {"width": 267, "height": 31, "view": {"fill": "#d9d9d9", "stroke": "#333333", "strokeWidth": 1.1}, "data": {"values": [{"g": "Unrestricted"}]}, "mark": {"type": "text", "font": "DejaVu Sans", "fontWeight": "bold", "fontSize": 21, "color": "#1a1a1a"}, "encoding": {"text": {"field": "g", "type": "nominal"}}},
    {"width": 267, "height": 216, "view": {"fill": "white", "stroke": "#333333", "strokeWidth": 1.1}, "layer": [
     {"data": {"name": "pd"}, "transform": [{"filter": "datum.g == 'Unrestricted'"}], "mark": {"type": "circle", "size": 26, "opacity": 1},
      "encoding": {"x": {"field": "t", "type": "quantitative", "scale": {"domain": [0.1, 19.9], "nice": false, "zero": false}, "axis": {"orient": "bottom", "values": [5, 10, 15], "title": null}},
       "y": {"field": "v", "type": "quantitative", "scale": {"domain": [3.3765, 4.6635], "nice": false, "zero": false}, "axis": {"orient": "left", "values": [3.4, 3.6, 3.8, 4.0, 4.2, 4.4, 4.6], "labels": false, "ticks": false, "title": null, "minExtent": 0}},
       "color": {"field": "g", "type": "nominal", "scale": {"domain": ["Restricted", "Unrestricted"], "range": ["#F8766D", "#00BFC4"]}, "legend": null}}},
     {"data": {"name": "fd"}, "transform": [{"filter": "datum.g == 'Unrestricted'"}], "mark": {"type": "line", "strokeWidth": 1.3, "interpolate": "natural"},
      "encoding": {"x": {"field": "t", "type": "quantitative", "axis": {"orient": "top", "values": [2.5, 7.5, 12.5, 17.5], "labels": false, "ticks": false, "domain": false, "title": null, "grid": true, "gridWidth": 0.55, "minExtent": 0}},
       "y": {"field": "v", "type": "quantitative", "axis": {"orient": "right", "values": [3.5, 3.7, 3.9, 4.1, 4.3, 4.5], "labels": false, "ticks": false, "domain": false, "title": null, "grid": true, "gridWidth": 0.55, "minExtent": 0}},
       "color": {"field": "g", "type": "nominal", "legend": null}}}
    ]}
   ]}
  ]},
  {"width": 542, "height": 64, "view": {"stroke": null}, "layer": [
   {"data": {"values": [{"k": "xt", "s": "Circadian Time"}]}, "mark": {"type": "text", "font": "DejaVu Sans", "fontWeight": "bold", "fontSize": 23.6, "color": "#000000"},
    "encoding": {"text": {"field": "s", "type": "nominal"}, "y": {"field": "k", "type": "nominal", "scale": {"type": "point", "domain": ["xt", "cap"], "padding": 0.2}, "axis": null}}},
   {"data": {"values": [{"k": "cap", "s": "(d) Differential fit for RUFY1 (p = 7.70 × 10⁻⁵)"}]}, "mark": {"type": "text", "font": "DejaVu Serif", "fontSize": 21.7, "color": "#000000", "dx": -32},
    "encoding": {"text": {"field": "s", "type": "nominal"}, "y": {"field": "k", "type": "nominal", "axis": null}}}
  ]}
 ]}
]}
],
"config": {
 "view": {"stroke": null},
 "axis": {"labelFont": "DejaVu Sans", "labelFontWeight": "bold", "labelFontSize": 18, "labelColor": "#4d4d4d", "titleFont": "DejaVu Sans", "titleFontWeight": "bold", "titleFontSize": 23.6, "titleColor": "#000000", "gridColor": "#ebebeb", "gridWidth": 1.1, "tickColor": "#333333", "tickSize": 4, "tickWidth": 1.1, "domain": false, "labelPadding": 4, "titlePadding": 4}
}
}
